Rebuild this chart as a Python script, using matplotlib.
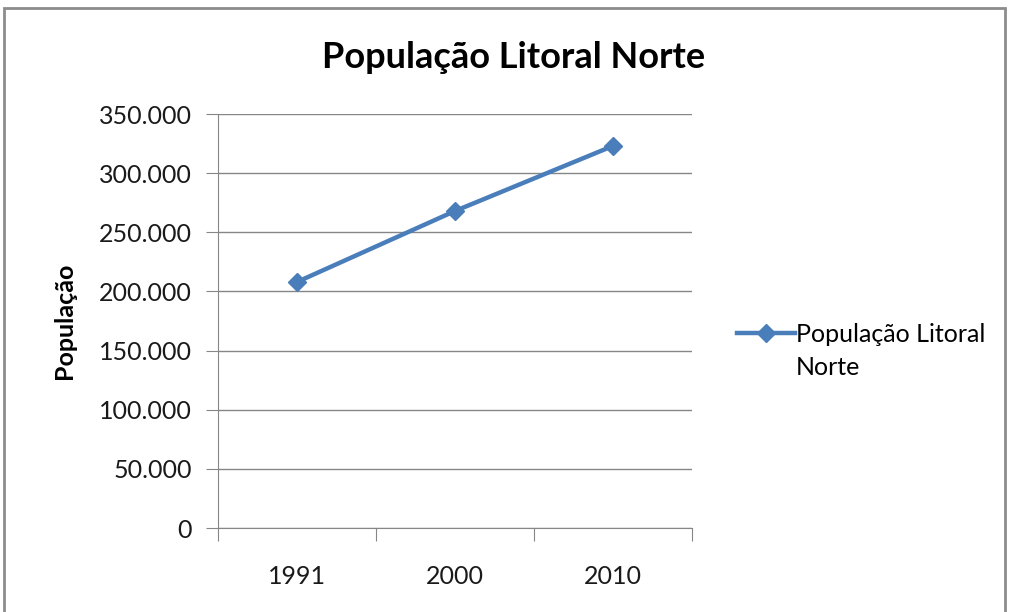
import numpy as np
import matplotlib.pyplot as plt
from matplotlib.patches import Rectangle
from matplotlib.ticker import FuncFormatter
from matplotlib.legend_handler import HandlerLine2D
from matplotlib.lines import Line2D

plt.rcParams['font.family'] = ['Lato', 'DejaVu Sans']

# data
years = ['1991', '2000', '2010']
populacao = [208000, 268000, 323000]
series_name = 'População Litoral\nNorte'

line_color = '#4A7EBB'
grid_color = '#868686'


# legend handle aligned with the first text line (Excel style)
class TopLineHandler(HandlerLine2D):
    def create_artists(self, legend, orig_handle, xdescent, ydescent,
                       width, height, fontsize, trans):
        arts = super().create_artists(legend, orig_handle, xdescent,
                                      ydescent, width, height, fontsize, trans)
        for a in arts:
            a.set_ydata(np.asarray(a.get_ydata()) + 0.75 * fontsize)
        return arts


fig = plt.figure(figsize=(10.09, 6.12), dpi=100, facecolor='white')

# outer chart frame (bottom edge cut off, like the original screenshot)
fig.patches.append(Rectangle((4 / 1009, -0.1), 1001 / 1009, 1.1 - 8 / 612,
                             transform=fig.transFigure, fill=False,
                             edgecolor='#8c8c8c', lw=2))

ax = fig.add_axes([218 / 1009, 84 / 612, 474 / 1009, 414 / 612])

x = [i + 0.5 for i in range(len(years))]
ax.plot(x, populacao, color=line_color, lw=3.2, marker='D', ms=9,
        label=series_name)

ax.set_xlim(0, len(years))
ax.set_ylim(0, 350000)
ax.set_yticks(range(0, 350001, 50000))
ax.yaxis.set_major_formatter(
    FuncFormatter(lambda v, p: f'{v:,.0f}'.replace(',', '.')))
ax.grid(axis='y', color=grid_color, lw=1)
ax.set_axisbelow(True)

# category boundaries carry the tick marks, labels sit in the middle
ax.set_xticks(range(len(years) + 1))
ax.set_xticklabels([])
ax.set_xticks(x, minor=True)
ax.set_xticklabels(years, minor=True)
ax.tick_params(axis='x', which='major', length=9, color=grid_color)
ax.tick_params(axis='x', which='minor', length=0, pad=27, labelsize=18,
               labelcolor='#1a1a1a')
ax.tick_params(axis='y', length=9, color=grid_color, pad=10, labelsize=18,
               labelcolor='#1a1a1a')

for side in ['top', 'right']:
    ax.spines[side].set_visible(False)
for side in ['left', 'bottom']:
    ax.spines[side].set_color(grid_color)

ax.set_ylabel('População', fontsize=18, fontweight='bold', labelpad=16)
fig.text(514 / 1009, 1 - 58 / 612, 'População Litoral Norte', ha='center',
         va='center', fontsize=26, fontweight='bold')

leg = ax.legend(loc='center left', bbox_to_anchor=(1.074, 0.428),
                frameon=False, fontsize=18, handlelength=2.3,
                handletextpad=0.05, borderaxespad=0,
                handler_map={Line2D: TopLineHandler()})
for t in leg.get_texts():
    t.set_linespacing(1.55)

fig.savefig('out.png', dpi=100, facecolor='white')
